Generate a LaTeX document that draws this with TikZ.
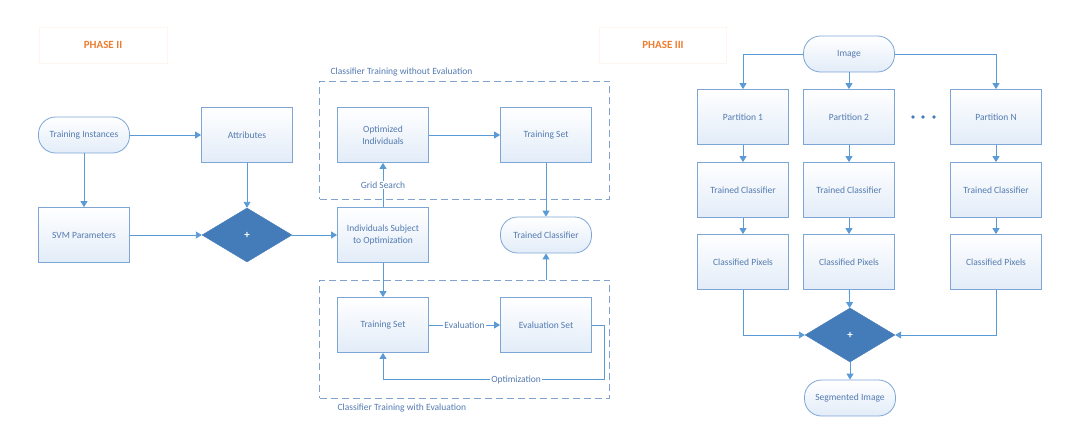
\documentclass[tikz,border=0pt]{standalone}
\usepackage{fontspec}
\setmainfont{Carlito}
\usetikzlibrary{arrows.meta,shapes.geometric}
\definecolor{linecol}{RGB}{91,155,213}
\definecolor{boxcol}{RGB}{125,166,214}
\definecolor{dashcol}{RGB}{130,164,204}
\definecolor{textcol}{RGB}{84,122,176}
\definecolor{shadecol}{RGB}{226,236,248}
\definecolor{diacol}{RGB}{68,124,186}
\definecolor{phasecol}{RGB}{237,125,49}
\begin{document}
\begin{tikzpicture}
[x=1pt,y=-1pt,
  boxdecorate/.style={shape=rectangle,draw=boxcol,line width=0.8pt,top color=white,bottom color=shadecol,
    minimum width=91pt,minimum height=55pt,align=center,text=textcol,font=\fontsize{9.5}{11.5}\selectfont},
  termdecorate/.style={boxdecorate,minimum height=36pt,rounded corners=17pt},
  diadecorate/.style={shape=diamond,fill=diacol,draw=diacol,minimum width=90pt,minimum height=54pt,
    inner sep=0pt,text=white,font=\fontsize{11}{12}\selectfont\bfseries},
  groupdecorate/.style={shape=rectangle,draw=dashcol,line width=0.9pt,dash pattern=on 7pt off 4pt,
    minimum width=290pt,minimum height=118pt},
  phasedecorate/.style={shape=rectangle,draw=phasecol!8,minimum height=36pt,
    text=phasecol,font=\fontsize{11}{13}\selectfont\bfseries},
  arrowdecorate/.style={-{Triangle[length=6pt,width=7pt]},draw=linecol,line width=0.9pt},
  labeldecorate/.style={fill=white,inner sep=1pt,text=textcol,font=\fontsize{9.5}{11.5}\selectfont},
  grouplabel/.style={anchor=west,text=textcol,font=\fontsize{9.5}{11.5}\selectfont}]
\useasboundingbox (0,0) rectangle (1080,442);
%% phase headers
\node (phasetwo) at (103,45) [phasedecorate,minimum width=128pt] {PHASE II};
\node (phasethree) at (663,45) [phasedecorate,minimum width=127pt] {PHASE III};
%% phase II groups
\node (woevalbox) at (464.5,140) [groupdecorate] {};
\node (wevalbox) at (464.5,339) [groupdecorate] {};
\node at (327,72) [grouplabel] {Classifier Training without Evaluation};
\node at (334,408) [grouplabel] {Classifier Training with Evaluation};
%% phase II nodes
\node (ti) at (84,135) [termdecorate] {Training Instances};
\node (attr) at (247,135) [boxdecorate] {Attributes};
\node (svm) at (84,235) [boxdecorate] {SVM Parameters};
\node (dia) at (247,235) [diadecorate] {+};
\node (isub) at (383,235) [boxdecorate] {Individuals Subject\\to Optimization};
\node (opt) at (383,135) [boxdecorate] {Optimized\\Individuals};
\node (tset1) at (546,135) [boxdecorate] {Training Set};
\node (tc) at (546,235) [termdecorate] {Trained Classifier};
\node (tset2) at (383,325) [boxdecorate] {Training Set};
\node (eval) at (546,325) [boxdecorate] {Evaluation Set};
%% phase II edges
\path
\foreach \startnode/\endnode in {ti/attr, ti/svm, attr/dia, svm/dia, dia/isub, opt/tset1, tset1/tc, isub/tset2} {
  (\startnode) edge[arrowdecorate] (\endnode)
};
\draw[arrowdecorate] (isub) -- node[labeldecorate,pos=0.5] {Grid Search} (opt);
\draw[arrowdecorate] (tset2) -- node[labeldecorate] {Evaluation} (eval);
\draw[arrowdecorate] (eval.east) -- ++(13,0) |- node[labeldecorate,pos=0.7] {Optimization}
  ([yshift=-27pt]tset2.south) -- (tset2.south);
\draw[arrowdecorate] (wevalbox.north -| tc) -- (tc);
%% phase III nodes
\node (img) at (849,54) [termdecorate] {Image};
\foreach \nodename/\x in {1/743, 2/849, N/996} {
  \node (p\nodename) at (\x,117) [boxdecorate] {Partition \nodename};
  \node (tc\nodename) at (\x,190) [boxdecorate] {Trained Classifier};
  \node (cp\nodename) at (\x,262) [boxdecorate] {Classified Pixels};
}
\node (dia2) at (850,335) [diadecorate] {+};
\node (seg) at (850,398) [termdecorate] {Segmented Image};
\foreach \x in {913,923,934} {
  \fill[diacol] (\x,117) circle (1.8pt);
}
%% phase III edges
\draw[arrowdecorate] (img) -| (p1);
\draw[arrowdecorate] (img) -| (pN);
\path
\foreach \startnode/\endnode in {img/p2, p1/tc1, p2/tc2, pN/tcN, tc1/cp1, tc2/cp2, tcN/cpN, cp2/dia2, dia2/seg} {
  (\startnode) edge[arrowdecorate] (\endnode)
};
\draw[arrowdecorate] (cp1) |- (dia2.west);
\draw[arrowdecorate] (cpN) |- (dia2.east);
\end{tikzpicture}
\end{document}
